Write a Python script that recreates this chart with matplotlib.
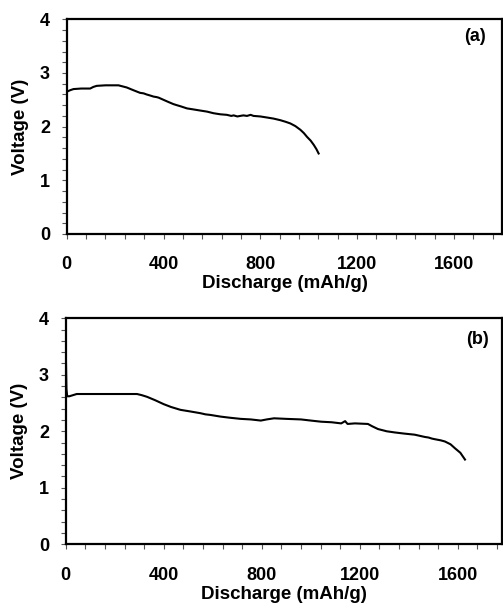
import matplotlib
matplotlib.use("Agg")
import matplotlib.pyplot as plt
from matplotlib.ticker import MultipleLocator

plt.rcParams["font.family"] = ["Liberation Sans", "DejaVu Sans"]
plt.rcParams["font.weight"] = "bold"

# Panel (a) discharge curve
cap_a = [0, 5, 15, 28, 60, 97, 110, 124, 160, 214, 248, 275, 303, 318, 330, 345, 359,
         372, 380, 400, 420, 441, 455, 470, 497, 525, 552, 580, 607, 635, 662, 680,
         690, 705, 717, 730, 745, 760, 772, 800, 828, 855, 883, 905, 924, 945, 966,
         980, 993, 1008, 1021, 1032, 1041]
volt_a = [2.65, 2.66, 2.68, 2.70, 2.71, 2.71, 2.74, 2.76, 2.77, 2.77, 2.73, 2.68, 2.63,
          2.62, 2.60, 2.58, 2.56, 2.55, 2.54, 2.50, 2.46, 2.42, 2.40, 2.38, 2.34, 2.32,
          2.30, 2.28, 2.25, 2.23, 2.22, 2.20, 2.21, 2.19, 2.20, 2.21, 2.20, 2.22, 2.20,
          2.19, 2.17, 2.15, 2.12, 2.09, 2.06, 2.01, 1.94, 1.88, 1.81, 1.74, 1.66, 1.58,
          1.50]

# Panel (b) discharge curve
cap_b = [0, 1, 3, 6, 15, 45, 100, 200, 291, 310, 332, 365, 400, 430, 468, 510, 550,
         570, 590, 632, 670, 714, 755, 796, 820, 850, 900, 960, 1000, 1042, 1085,
         1124, 1140, 1150, 1180, 1233, 1250, 1274, 1310, 1342, 1380, 1424, 1465,
         1480, 1495, 1506, 1530, 1547, 1570, 1588, 1610, 1629]
volt_b = [2.70, 3.26, 2.75, 2.62, 2.62, 2.66, 2.66, 2.66, 2.66, 2.64, 2.61, 2.55, 2.48,
          2.43, 2.38, 2.35, 2.32, 2.30, 2.29, 2.26, 2.24, 2.22, 2.21, 2.19, 2.21, 2.23,
          2.22, 2.21, 2.19, 2.17, 2.16, 2.14, 2.18, 2.13, 2.14, 2.13, 2.09, 2.04, 2.00,
          1.98, 1.96, 1.94, 1.90, 1.89, 1.87, 1.86, 1.84, 1.82, 1.77, 1.70, 1.62, 1.50]

panels = [
    (cap_a, volt_a, "(a)", [66.7 / 503, (608 - 234) / 608, 435.6 / 503, 214.7 / 608],
     1800, (0.937, 0.918)),
    (cap_b, volt_b, "(b)", [65.7 / 503, (608 - 544.3) / 608, 436.3 / 503, 226 / 608],
     1780, (0.943, 0.904)),
]

fig = plt.figure(figsize=(5.03, 6.08), dpi=100)

for cap, volt, tag, rect, xmax, tag_xy in panels:
    ax = fig.add_axes(rect)
    ax.plot(cap, volt, color="black", lw=1.5)
    ax.set_xlim(0, xmax)
    ax.set_ylim(0, 4)
    ax.xaxis.set_major_locator(MultipleLocator(400))
    ax.xaxis.set_minor_locator(MultipleLocator(80))
    ax.yaxis.set_major_locator(MultipleLocator(1))
    ax.yaxis.set_minor_locator(MultipleLocator(0.2))
    ax.tick_params(which="both", direction="out", labelsize=13, width=0.8,
                   length=3.6, color="#555555")
    ax.tick_params(axis="x", which="major", pad=12.5)
    ax.tick_params(axis="y", which="major", pad=8.5)
    for sp in ax.spines.values():
        sp.set_linewidth(1.6)
    ax.set_xlabel("Discharge (mAh/g)", fontsize=13.5, fontweight="bold", labelpad=1.5)
    ax.set_ylabel("Voltage (V)", fontsize=13.5, fontweight="bold", labelpad=8)
    ax.text(tag_xy[0], tag_xy[1], tag, transform=ax.transAxes, fontsize=13,
            fontweight="bold", ha="center", va="center")

fig.savefig("out.png", dpi=100)
